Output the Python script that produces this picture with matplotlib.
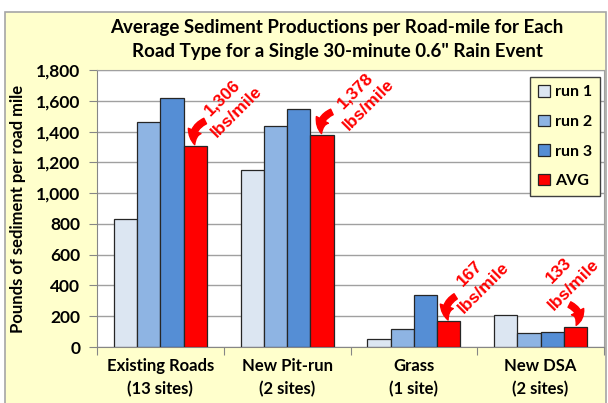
import matplotlib
matplotlib.use("Agg")
import matplotlib.pyplot as plt
from matplotlib.patches import Rectangle
import numpy as np

categories = ["Existing Roads\n(13 sites)", "New Pit-run\n(2 sites)", "Grass\n(1 site)", "New DSA\n(2 sites)"]
series_names = ["run 1", "run 2", "run 3", "AVG"]
run1 = [830, 1150, 50, 210]
run2 = [1460, 1435, 115, 90]
run3 = [1620, 1545, 340, 100]
avg = [1306, 1378, 167, 133]
avg_labels = ["1,306\nlbs/mile", "1,378\nlbs/mile", "167\nlbs/mile", "133\nlbs/mile"]
yticks = [0, 200, 400, 600, 800, 1000, 1200, 1400, 1600, 1800]
ytick_labels = ["0", "200", "400", "600", "800", "1,000", "1,200", "1,400", "1,600", "1,800"]

colors = ["#DCE6F2", "#8EB4E3", "#558ED5", "#FF0000"]
bg = "#FFFFCC"

fig = plt.figure(figsize=(6.08, 4.03), dpi=100)
fig.patch.set_facecolor("white")
W, H = 608, 403
# chart area (yellow with gray border)
fig.patches.append(Rectangle((5 / W, -0.01), 601 / W, (H - 12) / H + 0.01, transform=fig.transFigure,
                             facecolor=bg, edgecolor="#A6A6A6", lw=1.2, zorder=-5))

ax = fig.add_axes([97 / W, (H - 347) / H, (604 - 97) / W, (347 - 70) / H])
ax.set_zorder(2)
ax.set_facecolor("white")

w = 0.183
x = np.arange(len(categories))
data = [run1, run2, run3, avg]
for k, (vals, name) in enumerate(zip(data, series_names)):
    ax.bar(x + (k - 1.5) * w, vals, width=w, color=colors[k], edgecolor="#262626",
           linewidth=0.9, label=name, zorder=3)

ax.set_xlim(-0.5, 3.5)
ax.set_ylim(0, 1800)
ax.set_yticks(yticks)
ax.set_yticklabels(ytick_labels)
ax.yaxis.grid(True, color="#A0A0A0", lw=1.0, zorder=0)
ax.set_axisbelow(True)

ax.set_xticks(np.arange(-0.5, 4, 1.0), minor=False)
ax.set_xticklabels([])
ax.set_xticks(x, minor=True)
ax.set_xticklabels(categories, minor=True)
ax.tick_params(axis="x", which="minor", length=0, pad=8)
ax.tick_params(axis="x", which="major", length=6, color="#868686")
ax.tick_params(axis="y", length=6, color="#868686", pad=6)

for lab in ax.get_xticklabels(minor=True):
    lab.set_fontfamily("Lato")
    lab.set_fontweight("bold")
    lab.set_fontsize(12)
    lab.set_linespacing(1.5)
for lab in ax.get_yticklabels():
    lab.set_fontfamily("Lato")
    lab.set_fontweight("bold")
    lab.set_fontsize(12.5)

for s in ["left", "bottom"]:
    ax.spines[s].set_color("#868686")
for s in ["top", "right"]:
    ax.spines[s].set_color("#A0A0A0")
    ax.spines[s].set_linewidth(0.8)

ax.set_ylabel("Pounds of sediment per road mile", fontfamily="Lato", fontweight="bold",
              fontsize=12, labelpad=7)

fig.text(337 / W, 1 - 27 / H, "Average Sediment Productions per Road-mile for Each",
         ha="center", va="center", fontfamily="Lato", fontweight="bold", fontsize=13.5)
fig.text(337 / W, 1 - 51 / H, "Road Type for a Single 30-minute 0.6\" Rain Event",
         ha="center", va="center", fontfamily="Lato", fontweight="bold", fontsize=13.5)

leg = ax.legend(loc="upper right", bbox_to_anchor=(1.0 - 4 / 507, 1.0 - 7 / 277),
                prop={"family": "Lato", "weight": "bold", "size": 11.5},
                frameon=True, fancybox=False, edgecolor="#404040", facecolor=bg,
                framealpha=1, labelspacing=0.95, handlelength=0.75, handleheight=0.75,
                handletextpad=0.3, borderpad=0.5, borderaxespad=0)
leg.get_frame().set_linewidth(1.0)

# annotations (text offset and arrow tail offset, in pixels from top of AVG bar)
text_off = [(34, 41), (40, 37), (28, 41), (-9, 49)]
tail_off = [(10, 25), (10, 23), (7, 25), (-6, 22)]
rads = [0.45, 0.45, 0.45, -0.55]
for i in range(len(categories)):
    xb = x[i] + 1.5 * w
    ax.annotate(avg_labels[i], xy=(xb, avg[i]), xytext=text_off[i], textcoords="offset pixels",
                ha="center", va="center", rotation=45, color="#FF0000",
                fontfamily="Liberation Sans", fontweight="bold", fontsize=12.5, linespacing=1.4,
                zorder=6)
    ax.annotate("", xy=(xb, avg[i]), xytext=tail_off[i], textcoords="offset pixels",
                arrowprops=dict(arrowstyle="simple,head_length=0.9,head_width=0.9,tail_width=0.4",
                                connectionstyle="arc3,rad=%s" % rads[i], color="#FF0000",
                                shrinkA=0, shrinkB=1, mutation_scale=11),
                zorder=6)

fig.savefig("out.png", dpi=100, facecolor=fig.get_facecolor())
